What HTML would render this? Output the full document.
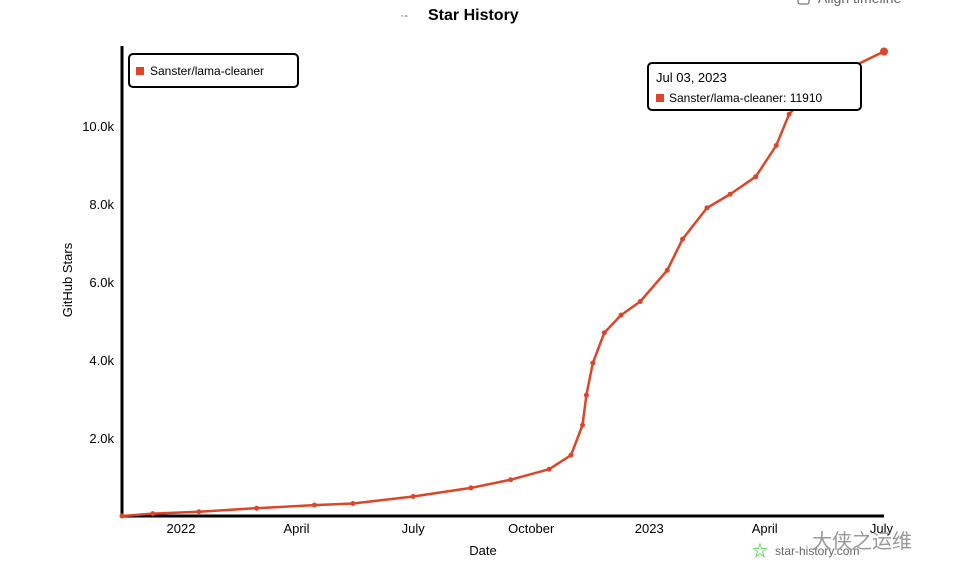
<!DOCTYPE html>
<html><head><meta charset="utf-8"><style>
body{margin:0;background:#fff;width:957px;height:582px;overflow:hidden;font-family:"Liberation Sans",sans-serif}
svg text{font-family:"Liberation Sans","Noto Sans CJK SC",sans-serif}
</style></head><body>
<svg width="957" height="582">
<g>
<rect x="798" y="-6" width="11" height="10" rx="2" fill="#fff" stroke="#555"/>
<text x="818" y="3" font-size="14" fill="#666">Align timeline</text></g>
<text x="428" y="20" font-size="16" font-weight="bold">Star History</text>
<text x="400" y="19" font-size="12" fill="#666">·-</text>
<g id="axes"></g>
<g id="plot"></g>
<text x="72" y="280" font-size="13" transform="rotate(-90 72 280)" text-anchor="middle">GitHub Stars</text>
<text x="483" y="555" font-size="13" text-anchor="middle">Date</text>
<g>
<rect x="129" y="54" width="169" height="33" rx="4" fill="#fff" stroke="#000" stroke-width="2"/>
<rect x="136" y="67" width="8" height="8" fill="#dd4528"/>
<text x="150" y="75" font-size="12">Sanster/lama-cleaner</text></g>
<g>
<rect x="648" y="63" width="213" height="47" rx="4" fill="#fff" stroke="#000" stroke-width="2"/>
<text x="656" y="82" font-size="13">Jul 03, 2023</text>
<rect x="656" y="94" width="8" height="8" fill="#dd4528"/>
<text x="669" y="102" font-size="12">Sanster/lama-cleaner: 11910</text></g>
<g>
<text x="752" y="556" font-size="16" fill="#2c2">☆</text>
<text x="775" y="555" font-size="12" fill="#666">star-history.com</text>
<text x="812" y="548" font-size="20" fill="#999">大侠之运维</text></g>
</svg>
<script>
const dates=["2021-11-16","2021-12-10","2022-01-15","2022-03-01","2022-04-15","2022-05-15","2022-07-01","2022-08-15","2022-09-15","2022-10-15","2022-11-01","2022-11-10","2022-11-13","2022-11-18","2022-11-27","2022-12-10","2022-12-25","2023-01-15","2023-01-27","2023-02-15","2023-03-05","2023-03-25","2023-04-10","2023-04-20","2023-05-10","2023-06-01","2023-07-03"];
const stars=[0,60,110,200,280,320,500,720,930,1200,1560,2330,3100,3920,4700,5150,5500,6300,7100,7900,8250,8700,9500,10300,11000,11400,11910];
const yTicks=[2000,4000,6000,8000,10000];
const yTickLabels=["2.0k","4.0k","6.0k","8.0k","10.0k"];
const xTicks=["2022-01-01","2022-04-01","2022-07-01","2022-10-01","2023-01-01","2023-04-01","2023-07-01"];
const xTickLabels=["2022","April","July","October","2023","April","July"];
const NS="http://www.w3.org/2000/svg";
const t0=Date.parse("2021-11-16"),t1=Date.parse("2023-07-03");
const X=d=>122+(Date.parse(d)-t0)/(t1-t0)*(884-122);
const Y=v=>516-v/1000*39;
const axes=document.getElementById('axes'),plot=document.getElementById('plot');
function mk(tag,attrs,parent){const e=document.createElementNS(NS,tag);for(const k in attrs)e.setAttribute(k,attrs[k]);parent.appendChild(e);return e;}
let a=mk('line',{x1:122,y1:516,x2:884,y2:516,stroke:'#000','stroke-width':3},axes);


a=mk('line',{x1:122,y1:46,x2:122,y2:516,stroke:'#000','stroke-width':3},axes);


yTicks.forEach((v,i)=>{const t=mk('text',{x:114,y:Y(v)+5,'font-size':13,'text-anchor':'end'},axes);t.textContent=yTickLabels[i];

});
xTicks.forEach((d,i)=>{const t=mk('text',{x:X(d),y:533,'font-size':13,'text-anchor':'middle'},axes);t.textContent=xTickLabels[i];

});
const pts=dates.map((d,i)=>X(d)+','+Y(stars[i])).join(' ');
const line=mk('polyline',{points:pts,fill:'none',stroke:'#dd4528','stroke-width':2.5,'stroke-linejoin':'round'},plot);


dates.forEach((d,i)=>{const c=mk('circle',{cx:X(d),cy:Y(stars[i]),r:i==dates.length-1?4:2.5,fill:'#dd4528'},plot);

});
</script>
</body></html>
